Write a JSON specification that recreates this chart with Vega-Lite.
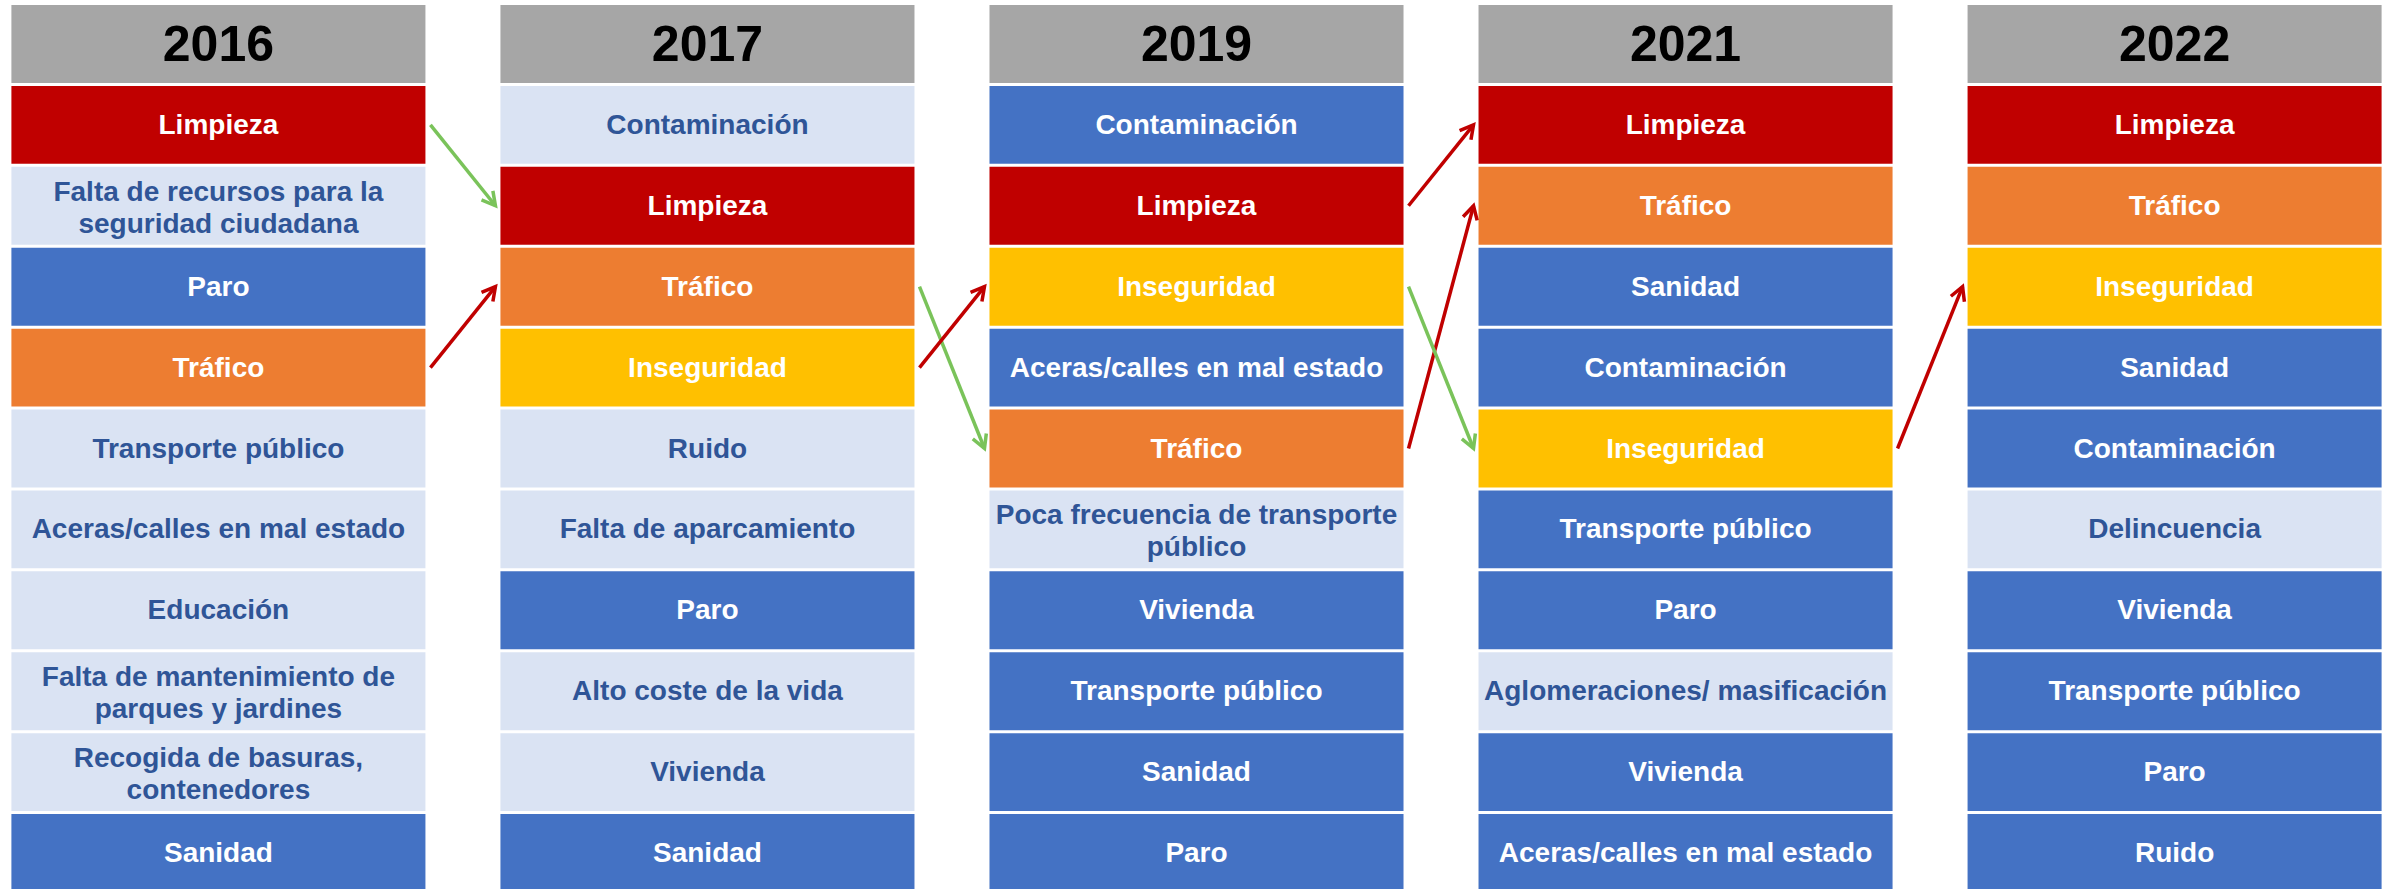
{
  "$schema": "https://vega.github.io/schema/vega-lite/v6.json",
  "width": 2393,
  "height": 897,
  "padding": 0,
  "autosize": {"type": "none"},
  "background": "white",
  "config": {"view": {"stroke": null}},
  "datasets": {
    "celdas": [
      {"anio": "2016", "puesto": 0, "tema": "2016", "grupo": "Cabecera"},
      {"anio": "2016", "puesto": 1, "tema": "Limpieza", "grupo": "Limpieza"},
      {"anio": "2016", "puesto": 2, "tema": "Falta de recursos para la\nseguridad ciudadana", "grupo": "Otros menor"},
      {"anio": "2016", "puesto": 3, "tema": "Paro", "grupo": "Otros"},
      {"anio": "2016", "puesto": 4, "tema": "Tráfico", "grupo": "Tráfico"},
      {"anio": "2016", "puesto": 5, "tema": "Transporte público", "grupo": "Otros menor"},
      {"anio": "2016", "puesto": 6, "tema": "Aceras/calles en mal estado", "grupo": "Otros menor"},
      {"anio": "2016", "puesto": 7, "tema": "Educación", "grupo": "Otros menor"},
      {"anio": "2016", "puesto": 8, "tema": "Falta de mantenimiento de\nparques y jardines", "grupo": "Otros menor"},
      {"anio": "2016", "puesto": 9, "tema": "Recogida de basuras,\ncontenedores", "grupo": "Otros menor"},
      {"anio": "2016", "puesto": 10, "tema": "Sanidad", "grupo": "Otros"},
      {"anio": "2017", "puesto": 0, "tema": "2017", "grupo": "Cabecera"},
      {"anio": "2017", "puesto": 1, "tema": "Contaminación", "grupo": "Otros menor"},
      {"anio": "2017", "puesto": 2, "tema": "Limpieza", "grupo": "Limpieza"},
      {"anio": "2017", "puesto": 3, "tema": "Tráfico", "grupo": "Tráfico"},
      {"anio": "2017", "puesto": 4, "tema": "Inseguridad", "grupo": "Inseguridad"},
      {"anio": "2017", "puesto": 5, "tema": "Ruido", "grupo": "Otros menor"},
      {"anio": "2017", "puesto": 6, "tema": "Falta de aparcamiento", "grupo": "Otros menor"},
      {"anio": "2017", "puesto": 7, "tema": "Paro", "grupo": "Otros"},
      {"anio": "2017", "puesto": 8, "tema": "Alto coste de la vida", "grupo": "Otros menor"},
      {"anio": "2017", "puesto": 9, "tema": "Vivienda", "grupo": "Otros menor"},
      {"anio": "2017", "puesto": 10, "tema": "Sanidad", "grupo": "Otros"},
      {"anio": "2019", "puesto": 0, "tema": "2019", "grupo": "Cabecera"},
      {"anio": "2019", "puesto": 1, "tema": "Contaminación", "grupo": "Otros"},
      {"anio": "2019", "puesto": 2, "tema": "Limpieza", "grupo": "Limpieza"},
      {"anio": "2019", "puesto": 3, "tema": "Inseguridad", "grupo": "Inseguridad"},
      {"anio": "2019", "puesto": 4, "tema": "Aceras/calles en mal estado", "grupo": "Otros"},
      {"anio": "2019", "puesto": 5, "tema": "Tráfico", "grupo": "Tráfico"},
      {"anio": "2019", "puesto": 6, "tema": "Poca frecuencia de transporte\npúblico", "grupo": "Otros menor"},
      {"anio": "2019", "puesto": 7, "tema": "Vivienda", "grupo": "Otros"},
      {"anio": "2019", "puesto": 8, "tema": "Transporte público", "grupo": "Otros"},
      {"anio": "2019", "puesto": 9, "tema": "Sanidad", "grupo": "Otros"},
      {"anio": "2019", "puesto": 10, "tema": "Paro", "grupo": "Otros"},
      {"anio": "2021", "puesto": 0, "tema": "2021", "grupo": "Cabecera"},
      {"anio": "2021", "puesto": 1, "tema": "Limpieza", "grupo": "Limpieza"},
      {"anio": "2021", "puesto": 2, "tema": "Tráfico", "grupo": "Tráfico"},
      {"anio": "2021", "puesto": 3, "tema": "Sanidad", "grupo": "Otros"},
      {"anio": "2021", "puesto": 4, "tema": "Contaminación", "grupo": "Otros"},
      {"anio": "2021", "puesto": 5, "tema": "Inseguridad", "grupo": "Inseguridad"},
      {"anio": "2021", "puesto": 6, "tema": "Transporte público", "grupo": "Otros"},
      {"anio": "2021", "puesto": 7, "tema": "Paro", "grupo": "Otros"},
      {"anio": "2021", "puesto": 8, "tema": "Aglomeraciones/ masificación", "grupo": "Otros menor"},
      {"anio": "2021", "puesto": 9, "tema": "Vivienda", "grupo": "Otros"},
      {"anio": "2021", "puesto": 10, "tema": "Aceras/calles en mal estado", "grupo": "Otros"},
      {"anio": "2022", "puesto": 0, "tema": "2022", "grupo": "Cabecera"},
      {"anio": "2022", "puesto": 1, "tema": "Limpieza", "grupo": "Limpieza"},
      {"anio": "2022", "puesto": 2, "tema": "Tráfico", "grupo": "Tráfico"},
      {"anio": "2022", "puesto": 3, "tema": "Inseguridad", "grupo": "Inseguridad"},
      {"anio": "2022", "puesto": 4, "tema": "Sanidad", "grupo": "Otros"},
      {"anio": "2022", "puesto": 5, "tema": "Contaminación", "grupo": "Otros"},
      {"anio": "2022", "puesto": 6, "tema": "Delincuencia", "grupo": "Otros menor"},
      {"anio": "2022", "puesto": 7, "tema": "Vivienda", "grupo": "Otros"},
      {"anio": "2022", "puesto": 8, "tema": "Transporte público", "grupo": "Otros"},
      {"anio": "2022", "puesto": 9, "tema": "Paro", "grupo": "Otros"},
      {"anio": "2022", "puesto": 10, "tema": "Ruido", "grupo": "Otros"}
    ],
    "flechas": [
      {"tema": "Limpieza", "desde": "2016", "hasta": "2017", "puesto_desde": 1, "puesto_hasta": 2, "cambio": 1, "direccion": "baja"},
      {"tema": "Tráfico", "desde": "2016", "hasta": "2017", "puesto_desde": 4, "puesto_hasta": 3, "cambio": -1, "direccion": "sube"},
      {"tema": "Tráfico", "desde": "2017", "hasta": "2019", "puesto_desde": 3, "puesto_hasta": 5, "cambio": 2, "direccion": "baja"},
      {"tema": "Inseguridad", "desde": "2017", "hasta": "2019", "puesto_desde": 4, "puesto_hasta": 3, "cambio": -1, "direccion": "sube"},
      {"tema": "Limpieza", "desde": "2019", "hasta": "2021", "puesto_desde": 2, "puesto_hasta": 1, "cambio": -1, "direccion": "sube"},
      {"tema": "Tráfico", "desde": "2019", "hasta": "2021", "puesto_desde": 5, "puesto_hasta": 2, "cambio": -3, "direccion": "sube"},
      {"tema": "Inseguridad", "desde": "2019", "hasta": "2021", "puesto_desde": 3, "puesto_hasta": 5, "cambio": 2, "direccion": "baja"},
      {"tema": "Inseguridad", "desde": "2021", "hasta": "2022", "puesto_desde": 5, "puesto_hasta": 3, "cambio": -2, "direccion": "sube"}
    ]
  },
  "layer": [
    {
      "data": {"name": "celdas"},
      "mark": {"type": "rect"},
      "encoding": {
        "x": {"field": "anio", "type": "ordinal", "axis": null,
              "scale": {"domain": ["2016", "2017", "2019", "2021", "2022"], "paddingInner": 0.15337, "paddingOuter": 0.02331}},
        "y": {"field": "puesto", "type": "ordinal", "axis": null,
              "scale": {"domain": [0, 1, 2, 3, 4, 5, 6, 7, 8, 9, 10], "paddingInner": 0.037, "paddingOuter": 0.0618}},
        "color": {"field": "grupo", "type": "nominal", "legend": null,
                  "scale": {"domain": ["Cabecera", "Limpieza", "Tráfico", "Inseguridad", "Otros", "Otros menor"],
                            "range": ["#A6A6A6", "#C00000", "#ED7D31", "#FFC000", "#4472C4", "#DAE3F3"]}}
      }
    },
    {
      "data": {"name": "celdas"},
      "transform": [{"filter": "datum.grupo === 'Cabecera'"}],
      "mark": {"type": "text", "font": "Liberation Sans", "fontWeight": "bold", "fontSize": 50, "baseline": "middle", "align": "center", "dy": 2, "color": "#000000"},
      "encoding": {
        "x": {"field": "anio", "type": "ordinal"},
        "y": {"field": "puesto", "type": "ordinal"},
        "text": {"field": "tema"}
      }
    },
    {
      "data": {"name": "celdas"},
      "transform": [{"filter": "datum.grupo !== 'Cabecera' && indexof(datum.tema, '\\n') < 0"}],
      "mark": {"type": "text", "font": "Liberation Sans", "fontWeight": "bold", "fontSize": 28, "baseline": "middle", "align": "center", "dy": 1},
      "encoding": {
        "x": {"field": "anio", "type": "ordinal"},
        "y": {"field": "puesto", "type": "ordinal"},
        "text": {"field": "tema"},
        "color": {"field": "grupo", "type": "nominal", "legend": null,
                  "scale": {"domain": ["Limpieza", "Tráfico", "Inseguridad", "Otros", "Otros menor"],
                            "range": ["#FFFFFF", "#FFFFFF", "#FFFFFF", "#FFFFFF", "#2F5597"]}}
      }
    },
    {
      "data": {"name": "celdas"},
      "transform": [{"filter": "datum.grupo !== 'Cabecera' && indexof(datum.tema, '\\n') >= 0"}],
      "mark": {"type": "text", "font": "Liberation Sans", "fontWeight": "bold", "fontSize": 28, "baseline": "middle", "align": "center", "lineBreak": "\n", "lineHeight": 32, "dy": -13},
      "encoding": {
        "x": {"field": "anio", "type": "ordinal"},
        "y": {"field": "puesto", "type": "ordinal"},
        "text": {"field": "tema"},
        "color": {"field": "grupo", "type": "nominal", "legend": null,
                  "scale": {"domain": ["Limpieza", "Tráfico", "Inseguridad", "Otros", "Otros menor"],
                            "range": ["#FFFFFF", "#FFFFFF", "#FFFFFF", "#FFFFFF", "#2F5597"]}}
      }
    },
    {
      "data": {"name": "flechas"},
      "mark": {"type": "rule", "strokeWidth": 3.5, "xOffset": 5, "x2Offset": -5},
      "encoding": {
        "x": {"field": "desde", "type": "ordinal", "bandPosition": 1},
        "x2": {"field": "hasta", "bandPosition": 0},
        "y": {"field": "puesto_desde", "type": "ordinal", "bandPosition": 0.5},
        "y2": {"field": "puesto_hasta", "bandPosition": 0.5},
        "stroke": {"field": "direccion", "type": "nominal", "legend": null,
                   "scale": {"domain": ["baja", "sube"], "range": ["#7AC35A", "#C00000"]}}
      }
    },
    {
      "data": {"name": "flechas"},
      "mark": {"type": "point", "filled": false, "strokeWidth": 3.5, "xOffset": -5, "size": 700, "opacity": 1,
               "shape": "M-0.55,1L0,0L0.55,1"},
      "encoding": {
        "x": {"field": "hasta", "type": "ordinal", "bandPosition": 0},
        "y": {"field": "puesto_hasta", "type": "ordinal", "bandPosition": 0.5},
        "angle": {"field": "cambio", "type": "quantitative", "legend": null,
                  "scale": {"type": "threshold", "domain": [-2.5, -1.5, 0, 1.5], "range": [14.9, 21.8, 38.6, 141.4, 158.2]}},
        "stroke": {"field": "direccion", "type": "nominal", "legend": null,
                   "scale": {"domain": ["baja", "sube"], "range": ["#7AC35A", "#C00000"]}}
      }
    }
  ],
  "resolve": {"scale": {"color": "independent"}}
}
